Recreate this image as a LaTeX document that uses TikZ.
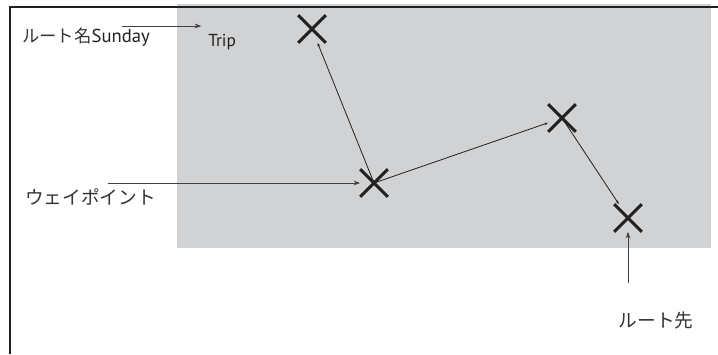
\documentclass[tikz,border=0pt]{standalone}
\usepackage{fontspec}
\newfontfamily\jpfont{Noto Sans CJK JP}
\newfontfamily\labfont{PT Sans}
\usetikzlibrary{arrows.meta, shapes.misc, positioning}
\definecolor{paper}{HTML}{D1D2D4}
\definecolor{ink}{HTML}{231F20}

\begin{document}
\begin{tikzpicture}[x=0.75pt, y=-0.75pt, >={Stealth[length=5pt,width=3.5pt]},
  wp/.style={cross out, draw=ink, line width=2.2pt, minimum size=18.5pt, inner sep=0pt},
  route/.style={-{Stealth[length=3pt,width=2pt]}, draw=ink, line width=0.6pt},
  note/.style={->, draw=black!75, line width=0.7pt},
  jlabel/.style={font=\jpfont\fontsize{14}{16}\selectfont, text=black!80, inner sep=0pt}]
\useasboundingbox (0,0) rectangle (718,354);
\fill[paper] (177,4) rectangle (711,248);
\draw[ink, line width=1.5pt] (10,354) |- (718,7);

\node[wp] (wp1) at (312,29) {};
\node[wp] (wp2) at (374,183) {};
\node[wp] (wp3) at (562,118) {};
\node[wp] (wp4) at (628,218) {};

\draw[route] (wp2.center) -- (wp1);
\draw[route] (wp2.center) -- (wp3);
\draw[route] (wp3.center) -- (wp4);

\node[jlabel, anchor=west, font=\jpfont\fontsize{13}{15}\selectfont] (name) at (22,37) {ルート名{\labfont\fontsize{14}{16}\selectfont\color{ink}Sunday}};
\node[anchor=west, font=\labfont\fontsize{13}{15}\selectfont, text=ink, inner sep=0pt] (trip) at (208,42) {Trip};
\node[jlabel, anchor=west] (point) at (25,197) {ウェイポイント};
\node[jlabel] (dest) at (656,320) {ルート先};

\coordinate (a) at (122,26);
\coordinate (b) at (108,183);
\coordinate (c) at (628,283);
\draw[note, shorten >=5pt] (a) -- (trip.west |- a);
\draw[note] (b) -- (wp2.west);
\draw[note] (c) -- (wp4.south);
\end{tikzpicture}
\end{document}
